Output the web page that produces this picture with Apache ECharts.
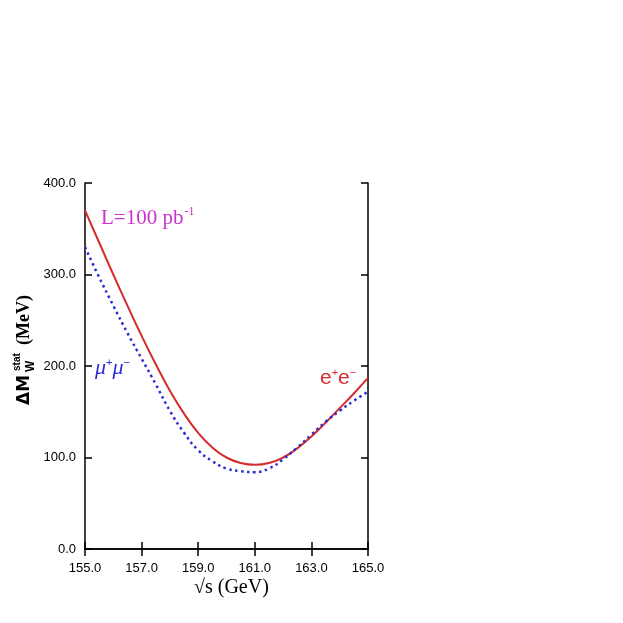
<!DOCTYPE html>
<html>
<head>
<meta charset="utf-8">
<script src="https://cdn.jsdelivr.net/npm/echarts@6/dist/echarts.min.js"></script>
<style>
  html, body { margin: 0; padding: 0; background: #fff; }
  #chart { width: 623px; height: 623px; }
</style>
</head>
<body>
<div id="chart"></div>
<script>
var energies = [155, 155.5, 156, 156.5, 157, 157.5, 158, 158.5, 159, 159.5, 160, 160.5, 161, 161.5, 162, 162.5, 163, 163.5, 164, 164.5, 165];
var eeValues = [370, 335, 300, 266, 233, 202, 173, 148, 127, 111, 100, 94, 92, 94, 100, 110, 123, 138, 154, 170, 187];
var mumuValues = [330, 297, 266, 236, 208, 180, 151, 127, 108, 96, 88, 85, 84, 88, 98, 111, 125, 139, 151, 162, 172];

var red = '#d42c2c';
var blue = '#2b2bd6';
var magenta = '#cc33cc';
var serif = '"Liberation Serif", "DejaVu Serif", serif';
var narrow = '"Liberation Sans Narrow", "Liberation Sans", sans-serif';

function pairs(xs, ys) {
  return xs.map(function(x, i) { return [x, ys[i]]; });
}

var chart = echarts.init(document.getElementById('chart'), null, { renderer: 'canvas' });
chart.setOption({
  animation: false,
  grid: { left: 85, top: 183, width: 283, height: 366 },
  xAxis: [{
    type: 'value', min: 155, max: 165, interval: 2, position: 'bottom',
    axisLine: { lineStyle: { color: '#000', width: 1.5 } },
    axisTick: { inside: true, length: 7, lineStyle: { color: '#000', width: 1.5 } },
    axisLabel: { color: '#000', fontFamily: narrow, fontSize: 13, margin: 13, formatter: function(v) { return v.toFixed(1); } },
    splitLine: { show: false }
  }, {
    type: 'value', min: 155, max: 165, interval: 2, position: 'top',
    axisLine: { lineStyle: { color: '#000', width: 1.5 } },
    axisTick: { inside: true, length: 7, lineStyle: { color: '#000', width: 1.5 } },
    axisLabel: { show: false }, splitLine: { show: false }
  }],
  yAxis: [{
    type: 'value', min: 0, max: 400, interval: 100, position: 'left',
    axisLine: { show: true, lineStyle: { color: '#000', width: 1.5 } },
    axisTick: { show: true, inside: true, length: 7, lineStyle: { color: '#000', width: 1.5 } },
    axisLabel: { color: '#000', fontFamily: narrow, fontSize: 13, margin: 9, formatter: function(v) { return v.toFixed(1); } },
    splitLine: { show: false }
  }, {
    type: 'value', min: 0, max: 400, interval: 100, position: 'right',
    axisLine: { show: true, lineStyle: { color: '#000', width: 1.5 } },
    axisTick: { show: true, inside: true, length: 7, lineStyle: { color: '#000', width: 1.5 } },
    axisLabel: { show: false }, splitLine: { show: false }
  }],
  series: [{
    name: 'e+e-', type: 'line', smooth: true, showSymbol: false,
    data: pairs(energies, eeValues),
    lineStyle: { color: red, width: 2 }
  }, {
    name: 'mu+mu-', type: 'line', smooth: true, showSymbol: false,
    data: pairs(energies, mumuValues),
    lineStyle: { color: blue, width: 2.5, type: [2.5, 3.5] }
  }],
  graphic: [
    { type: 'text', left: 101, top: 206, style: {
      text: '{a|L=100 pb}{s|-1}',
      rich: {
        a: { fontFamily: serif, fontSize: 21, fill: magenta },
        s: { fontFamily: serif, fontSize: 12, fill: magenta, padding: [0, 0, 12, 1] }
      }
    } },
    { type: 'text', left: 95, top: 357, style: {
      text: '{a|\u03bc}{s|+}{a|\u03bc}{s|\u2212}',
      rich: {
        a: { fontFamily: serif, fontStyle: 'italic', fontSize: 22, fill: blue },
        s: { fontFamily: '"Liberation Sans", sans-serif', fontSize: 11, fill: blue, padding: [0, 0, 12, 0] }
      }
    } },
    { type: 'text', left: 320, top: 367, style: {
      text: '{a|e}{s|+}{a|e}{s|\u2212}',
      rich: {
        a: { fontFamily: '"Liberation Sans", sans-serif', fontSize: 21, fill: red },
        s: { fontFamily: '"Liberation Sans", sans-serif', fontSize: 11, fill: red, padding: [0, 0, 12, 0] }
      }
    } },
    { type: 'text', left: 194, top: 578, style: {
      text: '\u221as (GeV)', fontFamily: serif, fontSize: 20, fill: '#000'
    } },
    { type: 'group', x: 33, y: 405, rotation: Math.PI / 2, children: [
      { type: 'text', x: 0, y: 0, style: { text: '\u0394M', fontFamily: '"DejaVu Sans", sans-serif', fontWeight: 'bold', fontSize: 17, fill: '#000', verticalAlign: 'bottom' } },
      { type: 'text', x: 33, y: 4, style: { text: 'W', fontFamily: '"Liberation Sans", sans-serif', fontWeight: 'bold', fontSize: 12, fill: '#000', verticalAlign: 'bottom' } },
      { type: 'text', x: 34, y: -11, style: { text: 'stat', fontFamily: '"Liberation Sans", sans-serif', fontWeight: 'bold', fontSize: 10, fill: '#000', verticalAlign: 'bottom' } },
      { type: 'text', x: 60, y: 0, style: { text: '(MeV)', fontFamily: serif, fontWeight: 'bold', fontSize: 18, fill: '#000', verticalAlign: 'bottom' } }
    ] }
  ]
});
</script>
</body>
</html>
